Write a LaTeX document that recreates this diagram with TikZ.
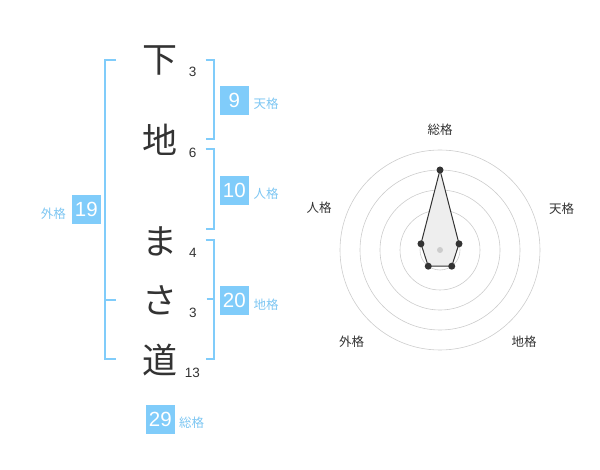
\documentclass[tikz,border=0pt]{standalone}
\usepackage{fontspec}
\newfontfamily\jp{Noto Sans CJK JP}
\newfontfamily\lat{Liberation Sans}
\definecolor{kblue}{HTML}{80CCFA}
\definecolor{klab}{HTML}{7DC6F2}
\definecolor{ktext}{HTML}{333333}
\definecolor{kgrid}{HTML}{CCCCCC}
\definecolor{kfill}{HTML}{EEEEEE}
\tikzset{
  bigch/.style={font=\jp\fontsize{35}{35}\selectfont, text=ktext, inner sep=0pt},
  strk/.style={font=\lat\fontsize{13.5}{13.5}\selectfont, text=ktext, inner sep=0pt},
  kbox/.style={fill=kblue, minimum width=28.7pt, minimum height=28.7pt, inner sep=0pt, text=white, font=\lat\fontsize{20.5}{20.5}\selectfont},
  klabel/.style={font=\jp\fontsize{12.5}{12.5}\selectfont, text=klab, inner sep=0pt},
  brk/.style={draw=kblue, line width=2pt},
  rlabel/.style={font=\jp\fontsize{12.5}{12.5}\selectfont, text=ktext, inner sep=0pt},
  ring/.style={draw=kgrid, line width=0.6pt},
  dot/.style={circle, fill=ktext, inner sep=0pt, minimum size=7pt},
}
\begin{document}
\begin{tikzpicture}[x=1pt, y=-1pt]
\useasboundingbox (0,0) rectangle (600,470);
% characters
\node[bigch] (c1) at (160,60) {下};
\node[bigch] (c2) at (160,140) {地};
\node[bigch] (c3) at (160,241.5) {ま};
\node[bigch] (c4) at (160,300) {さ};
\node[bigch] (c5) at (160,360) {道};
\node[strk] (s1) at (192.7,72.3) {3};
\node[strk] (s2) at (192.7,153.3) {6};
\node[strk] (s3) at (193,253.3) {4};
\node[strk] (s4) at (193,313.3) {3};
\node[strk] (s5) at (192.3,372.7) {13};
% brackets
\draw[brk] (116,60) -- (105,60) -- (105,359.3) -- (116,359.3);
\draw[brk] (105,300) -- (116,300);
\draw[brk] (205.7,60) -- (214.3,60) -- (214.3,139.3) -- (205.7,139.3);
\draw[brk] (205.7,149.3) -- (214.3,149.3) -- (214.3,229.3) -- (205.7,229.3);
\draw[brk] (205.7,240) -- (214.3,240) -- (214.3,359.3) -- (205.7,359.3);
\draw[brk] (206.7,299.5) -- (214.3,299.5);
% boxes
\node[kbox] (b1) at (234.3,100.3) {9};
\node[klabel] (l1) at (266,103.7) {天格};
\node[kbox] (b2) at (234.3,190.3) {10};
\node[klabel] (l2) at (266,194) {人格};
\node[kbox] (b3) at (234.3,300.3) {20};
\node[klabel] (l3) at (266,304.3) {地格};
\node[kbox] (b4) at (86.3,209.7) {19};
\node[klabel] (l4) at (53.3,214) {外格};
\node[kbox] (b5) at (160.3,419.3) {29};
\node[klabel] (l5) at (191.7,422.7) {総格};
% radar
\coordinate (rc) at (440,250);
\begin{scope}[shift={(440,250)}, yscale=-1]
  \foreach \r in {20,40,60,80,100} { \draw[ring] (0,0) circle (\r); }
  \coordinate (p1) at (90:80);
  \coordinate (p2) at (18:20);
  \coordinate (p3) at (-54:20);
  \coordinate (p4) at (-126:20);
  \coordinate (p5) at (162:20);
  \fill[kfill] (p1) -- (p2) -- (p3) -- (p4) -- (p5) -- cycle;
  \node[circle, fill=kgrid, inner sep=0pt, minimum size=6pt] (cd) at (0,0) {};
  \draw[ktext, line width=1pt] (p1) -- (p2) -- (p3) -- (p4) -- (p5) -- cycle;
  \foreach \p in {p1,p2,p3,p4,p5} { \node[dot] at (\p) {}; }
\end{scope}
\node[rlabel] (r1) at (440,130) {総格};
\node[rlabel] (r2) at (561.7,208.3) {天格};
\node[rlabel] (r3) at (524,341.7) {地格};
\node[rlabel] (r4) at (351.7,341.7) {外格};
\node[rlabel] (r5) at (319,208) {人格};
\end{tikzpicture}
\end{document}
